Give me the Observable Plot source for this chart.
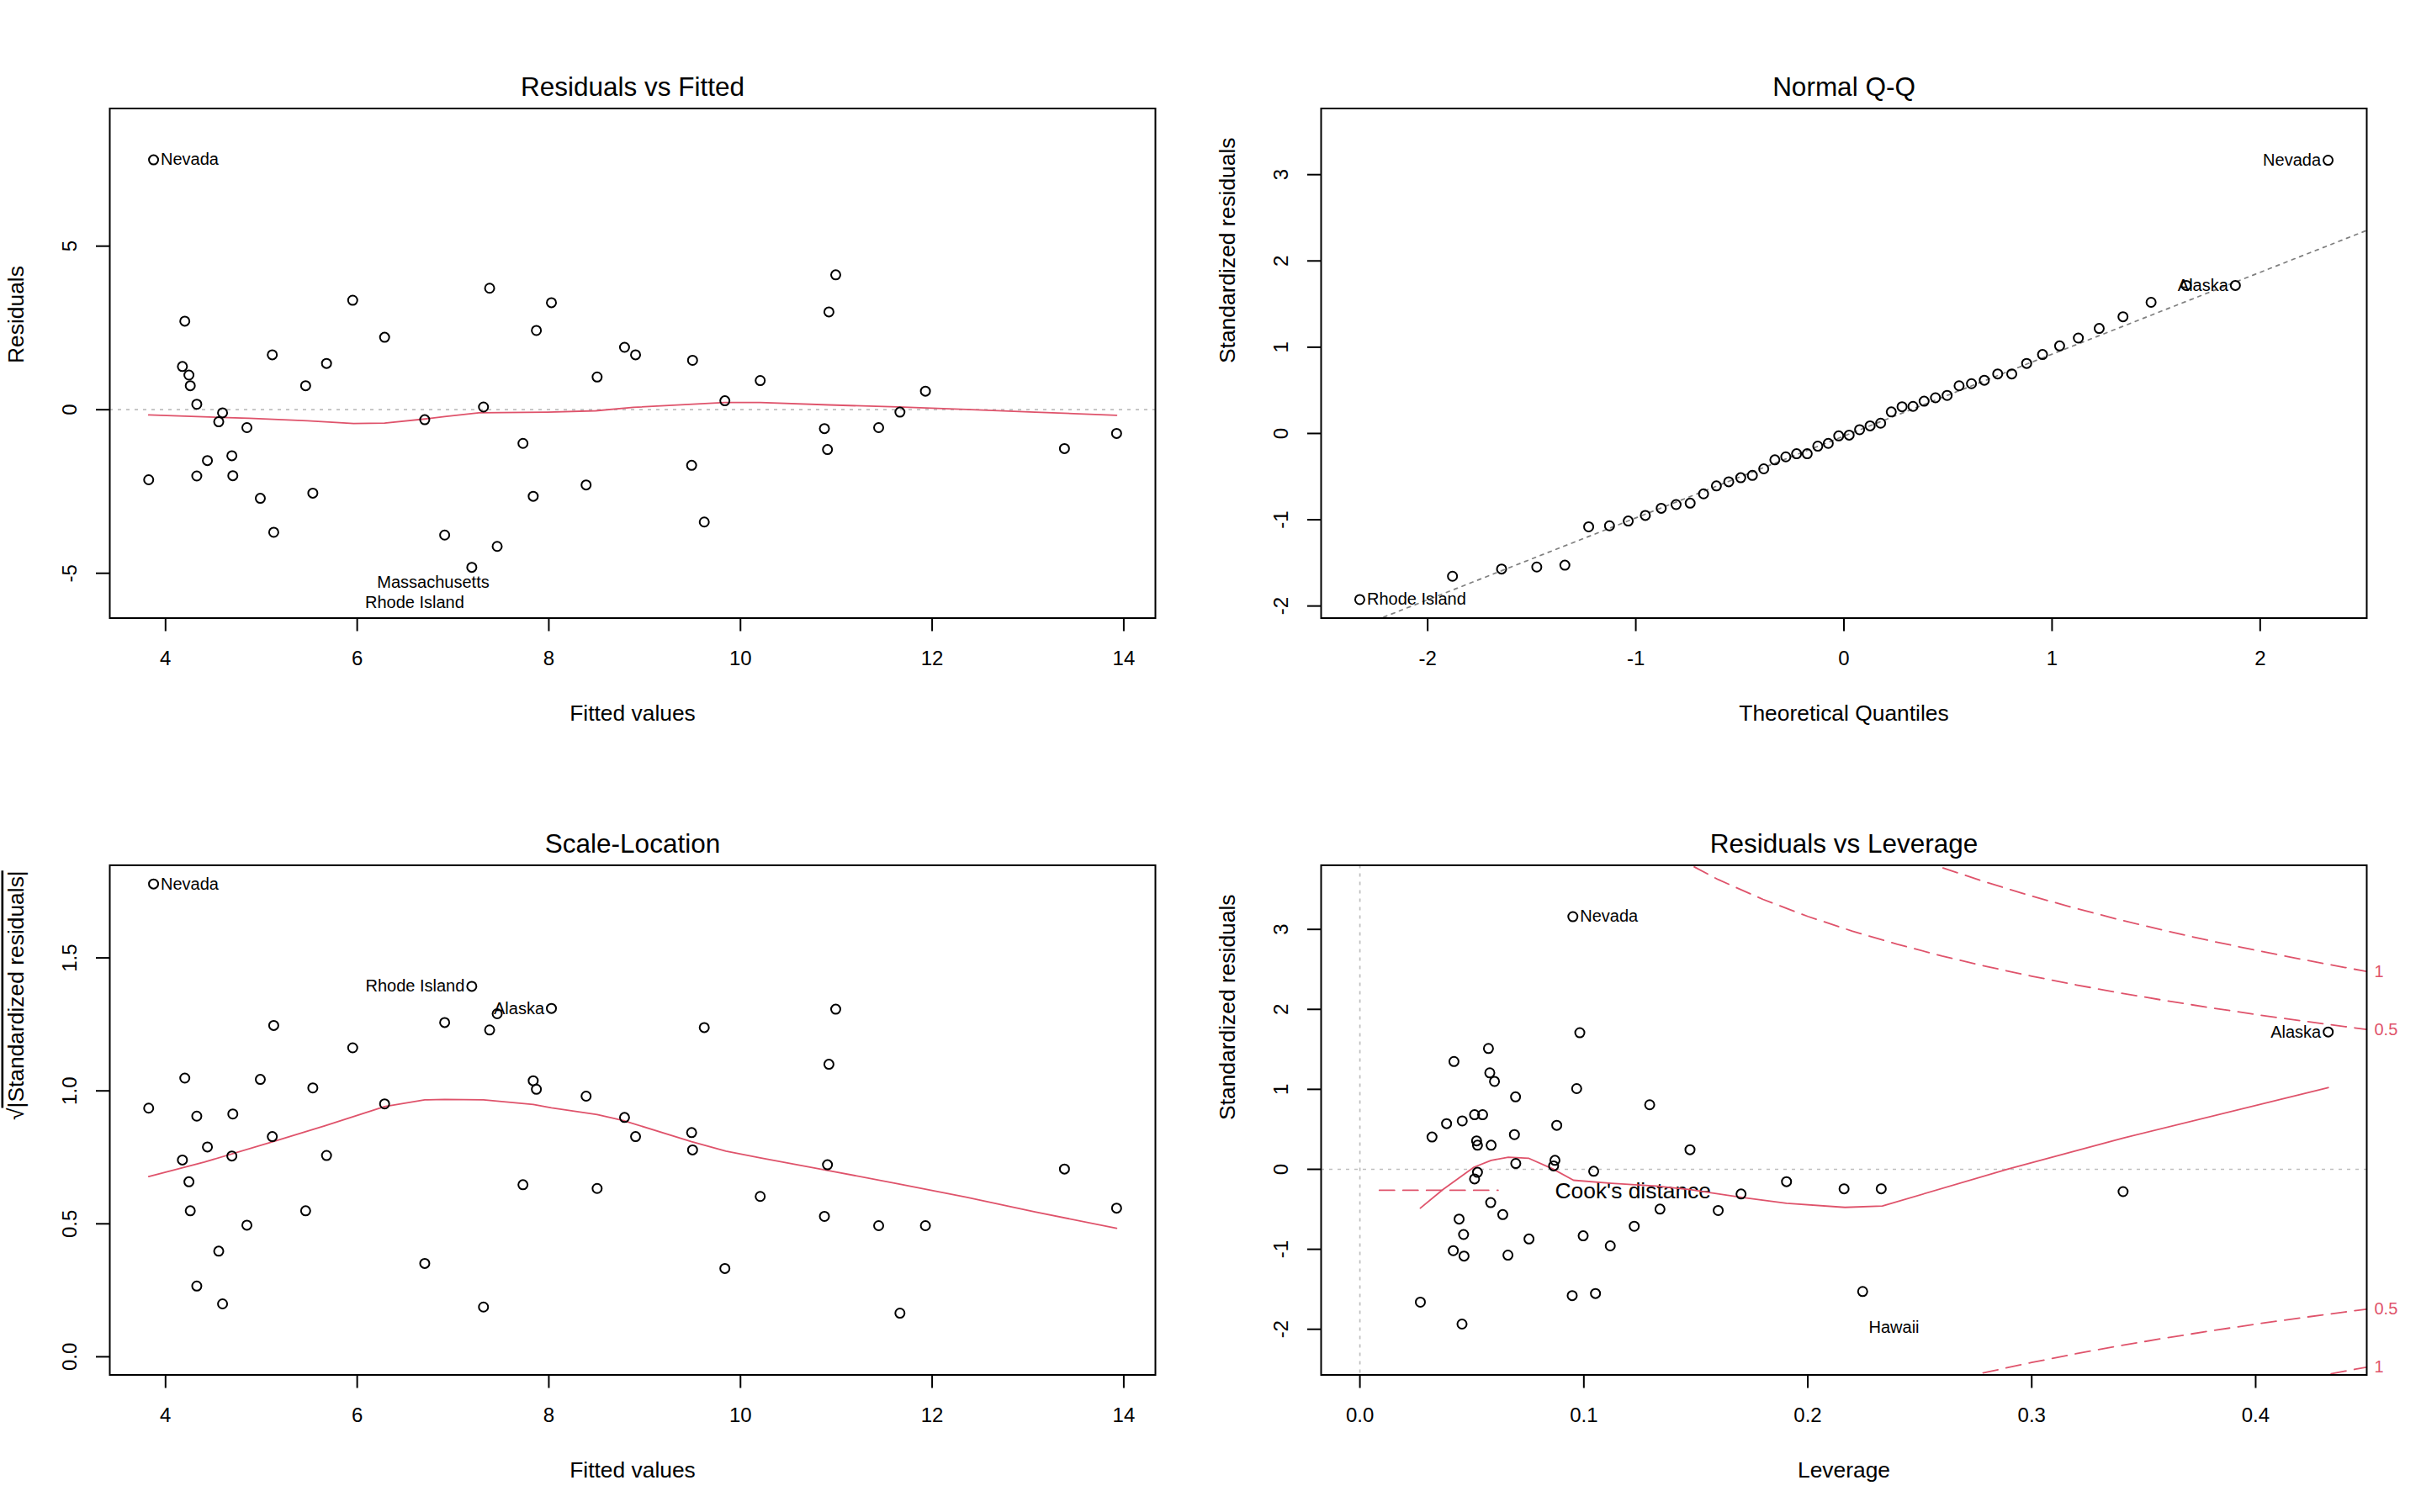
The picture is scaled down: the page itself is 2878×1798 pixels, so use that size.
<!DOCTYPE html>
<html><head><meta charset="utf-8">
<script src="https://cdn.jsdelivr.net/npm/d3@7"></script>
<script src="https://cdn.jsdelivr.net/npm/@observablehq/plot@0.6"></script>
<style>
html,body{margin:0;padding:0;background:#fff;}
#root{position:relative;width:2878px;height:1798px;overflow:hidden;background:#fff;}
.panel{position:absolute;}
.panel svg{display:block;}
</style></head><body><div id="root"></div>
<script>
// ---------- data ----------
const titles = ["Residuals vs Fitted", "Normal Q-Q", "Scale-Location", "Residuals vs Leverage"];
const xLabels = ["Fitted values", "Theoretical Quantiles", "Fitted values", "Leverage"];
const yLabels = ["Residuals", "Standardized residuals", "√|Standardized residuals|", "Standardized residuals"];

const fittedValues = [3.875, 3.824, 4.201, 4.176, 4.244, 4.258, 4.326, 4.595, 4.555, 4.849, 4.437, 4.692, 4.326, 4.702, 4.989, 5.129, 5.114, 5.537, 5.462, 5.680, 5.953, 6.286, 6.705, 6.913, 7.196, 7.318, 7.382, 7.461, 7.730, 7.837, 7.870, 8.027, 8.389, 8.504, 8.790, 8.905, 9.500, 9.490, 9.622, 9.837, 10.206, 10.994, 10.923, 10.876, 10.908, 11.442, 11.664, 11.930, 13.381, 13.925];
const residualValues = [7.638, -2.142, 2.706, 1.321, 1.059, 0.733, 0.167, -0.096, -0.369, -0.547, -1.554, -1.407, -2.026, -2.016, -2.709, -3.747, 1.678, -2.551, 0.733, 1.415, 3.346, 2.213, -0.306, -3.831, -4.818, 0.083, 3.713, -4.178, -1.030, -2.646, 2.423, 3.273, -2.299, 1.000, 1.908, 1.678, 1.510, -1.701, -3.433, 0.272, 0.891, 4.123, 2.989, -0.578, -1.218, -0.547, -0.075, 0.566, -1.187, -0.725];
const sqrtStdResid = [1.778, 0.935, 1.048, 0.740, 0.658, 0.549, 0.266, 0.199, 0.397, 0.495, 0.789, 0.755, 0.905, 0.913, 1.043, 1.246, 0.828, 1.011, 0.549, 0.757, 1.162, 0.951, 0.351, 1.257, 1.393, 0.187, 1.229, 1.290, 0.647, 1.038, 1.006, 1.310, 0.980, 0.633, 0.900, 0.828, 0.778, 0.843, 1.238, 0.332, 0.603, 1.307, 1.100, 0.528, 0.722, 0.493, 0.164, 0.493, 0.706, 0.559];

const theoreticalQ = [-2.3263, -1.8808, -1.6449, -1.4758, -1.3408, -1.2265, -1.1264, -1.0364, -0.9542, -0.8779, -0.8064, -0.7388, -0.6745, -0.6128, -0.5534, -0.4959, -0.4399, -0.3853, -0.3319, -0.2793, -0.2275, -0.1764, -0.1257, -0.0753, -0.0251, 0.0251, 0.0753, 0.1257, 0.1764, 0.2275, 0.2793, 0.3319, 0.3853, 0.4399, 0.4959, 0.5534, 0.6128, 0.6745, 0.7388, 0.8064, 0.8779, 0.9542, 1.0364, 1.1264, 1.2265, 1.3408, 1.4758, 1.6449, 1.8808, 2.3263];
const sortedStdResid = [-1.925, -1.655, -1.571, -1.548, -1.527, -1.082, -1.070, -1.015, -0.950, -0.867, -0.824, -0.808, -0.700, -0.608, -0.560, -0.513, -0.486, -0.410, -0.306, -0.271, -0.235, -0.235, -0.147, -0.115, -0.028, -0.019, 0.044, 0.088, 0.119, 0.250, 0.310, 0.314, 0.374, 0.414, 0.441, 0.553, 0.577, 0.617, 0.690, 0.690, 0.812, 0.915, 1.015, 1.106, 1.217, 1.353, 1.520, 1.716, 1.716, 3.167];
const qqIntercept = -0.03;
const qqSlope = 0.949;

const leverageValues = [0.0951, 0.0982, 0.0574, 0.0420, 0.0580, 0.0601, 0.0968, 0.0695, 0.1294, 0.0512, 0.0548, 0.0457, 0.0387, 0.0879, 0.0322, 0.0690, 0.0521, 0.0525, 0.0586, 0.1474, 0.0696, 0.0871, 0.0865, 0.0525, 0.1044, 0.0512, 0.1905, 0.2162, 0.1702, 0.0584, 0.0638, 0.1340, 0.1600, 0.0443, 0.1225, 0.0463, 0.0755, 0.0997, 0.0417, 0.0465, 0.0661, 0.1118, 0.0948, 0.1052, 0.0270, 0.0456, 0.2328, 0.3408, 0.2245, 0.4324];
const levStdResid = [3.159, 1.708, 1.511, 1.348, 1.206, 1.099, 1.009, 0.906, 0.807, 0.683, 0.683, 0.605, 0.571, 0.550, 0.404, 0.434, 0.356, 0.301, 0.301, 0.245, 0.073, 0.112, 0.043, -0.038, -0.025, -0.120, -0.154, -0.244, -0.309, -0.416, -0.566, -0.498, -0.515, -0.622, -0.712, -0.815, -0.871, -0.832, -1.017, -1.085, -1.073, -0.957, -1.579, -1.553, -1.661, -1.935, -0.244, -0.279, -1.528, 1.717];

const smooth1X = [3.824, 4.871, 5.480, 5.963, 6.286, 6.705, 6.913, 7.271, 7.988, 8.489, 8.883, 9.837, 10.206, 10.923, 11.639, 12.356, 13.073, 13.925];
const smooth1Y = [-0.159, -0.264, -0.337, -0.421, -0.410, -0.284, -0.211, -0.096, -0.075, -0.033, 0.072, 0.219, 0.219, 0.146, 0.083, 0.009, -0.075, -0.169];
const smooth3X = [3.824, 4.405, 5.121, 5.659, 6.286, 6.705, 6.913, 7.318, 7.837, 8.027, 8.504, 8.773, 9.490, 9.848, 10.206, 10.923, 11.639, 12.356, 13.073, 13.925];
const smooth3Y = [0.678, 0.732, 0.809, 0.868, 0.941, 0.966, 0.968, 0.966, 0.949, 0.936, 0.911, 0.889, 0.809, 0.773, 0.748, 0.700, 0.651, 0.600, 0.545, 0.483];
const smooth4X = [0.0270, 0.0371, 0.0509, 0.0586, 0.0663, 0.0755, 0.0862, 0.0954, 0.1123, 0.1322, 0.1475, 0.1705, 0.1905, 0.2166, 0.2333, 0.2895, 0.3408, 0.4324];
const smooth4Y = [-0.485, -0.253, 0.026, 0.112, 0.150, 0.137, 0.004, -0.137, -0.176, -0.210, -0.253, -0.352, -0.425, -0.476, -0.459, 0.004, 0.391, 1.022];

const cookH = [0.14, 0.16, 0.18, 0.20, 0.22, 0.24, 0.26, 0.28, 0.30, 0.32, 0.34, 0.36, 0.38, 0.40, 0.42, 0.44, 0.4496];
const cook05 = [3.919, 3.623, 3.375, 3.162, 2.977, 2.814, 2.667, 2.535, 2.415, 2.305, 2.203, 2.108, 2.020, 1.936, 1.858, 1.784, 1.749];
const cook1 = [5.542, 5.123, 4.773, 4.472, 4.210, 3.979, 3.772, 3.586, 3.416, 3.260, 3.115, 2.981, 2.856, 2.739, 2.628, 2.523, 2.474];
const cookLevelText = ["1", "0.5", "0.5", "1"];
const cookLevelY = [2.474, 1.749, -1.749, -2.474];
const cookLegendX = [0.0087, 0.0617];
const cookLegendY = -0.262;
const cookLegendText = {x: 0.0871, y: -0.275, text: "Cook's distance"};

// labelled points (index into the arrays) and free-standing labels
const p1LabelRight = [{i: 0, name: "Nevada"}];
const p1FreeLabels = [{x: 7.379, y: -5.27, text: "Massachusetts"}, {x: 7.117, y: -5.90, text: "Rhode Island"}];
const p2LabelRight = [{i: 0, name: "Rhode Island"}];
const p2LabelLeft = [{i: 48, name: "Alaska"}, {i: 49, name: "Nevada"}];
const p3LabelRight = [{i: 0, name: "Nevada"}];
const p3LabelLeft = [{i: 24, name: "Rhode Island"}, {i: 31, name: "Alaska"}];
const p4LabelRight = [{i: 0, name: "Nevada"}];
const p4LabelLeft = [{i: 49, name: "Alaska"}];
const p4FreeLabels = [{x: 0.2385, y: -1.978, text: "Hawaii"}];

const xTicks = [[4, 6, 8, 10, 12, 14], [-2, -1, 0, 1, 2], [4, 6, 8, 10, 12, 14], [0, 0.1, 0.2, 0.3, 0.4]];
const yTicks = [[-5, 0, 5], [-2, -1, 0, 1, 2, 3], [0, 0.5, 1, 1.5], [-2, -1, 0, 1, 2, 3]];
const xDomains = [[3.418, 14.33], [-2.512, 2.512], [3.418, 14.33], [-0.01732, 0.4496]];
const yDomains = [[-6.37, 9.208], [-2.14, 3.767], [-0.0683, 1.8485], [-2.571, 3.802]];

// ---------- styling ----------
const FONT = "'Liberation Sans', Arial, Helvetica, sans-serif";
const RED = "#DF536B";
const GRAY = "#BEBEBE";
const GRAY50 = "#7F7F7F";
const fmtInt = d => String(d);
const fmt1 = d => d.toFixed(1);
const dotOpts = {r: 5.5, stroke: "black", strokeWidth: 2, fill: "none"};
const lblSize = 20;

const root = document.getElementById("root");
const W = 1439, H = 899;

function makePanel(k, pos, margins, marks, fmts) {
  const chart = Plot.plot({
    width: W, height: H,
    marginLeft: margins[0], marginRight: margins[1], marginTop: margins[2], marginBottom: margins[3],
    style: {fontFamily: FONT, background: "white", color: "black"},
    x: {type: "linear", domain: xDomains[k], nice: false},
    y: {type: "linear", domain: yDomains[k], nice: false},
    marks: [
      ...marks,
      Plot.frame({stroke: "black", strokeWidth: 2}),
      Plot.axisX({ticks: xTicks[k], tickFormat: fmts[0], tickSize: 16, tickPadding: 23, fontSize: 24, strokeWidth: 2, label: null}),
      Plot.axisY({ticks: yTicks[k], tickFormat: fmts[1], tickSize: 16, tickPadding: 24, tickRotate: -90, fontSize: 24, strokeWidth: 2, label: null}),
      Plot.text([titles[k]], {frameAnchor: "top", dy: -15, lineAnchor: "bottom", fontSize: 31.5}),
      Plot.text([xLabels[k]], {frameAnchor: "bottom", dy: 122, lineAnchor: "bottom", fontSize: 26.4}),
      Plot.text([yLabels[k]], {frameAnchor: "left", dx: -103, rotate: -90, lineAnchor: "bottom", fontSize: 26.4})
    ]
  });
  const div = document.createElement("div");
  div.className = "panel";
  div.style.left = pos[0] + "px";
  div.style.top = pos[1] + "px";
  div.style.width = W + "px";
  div.style.height = H + "px";
  div.append(chart);
  root.append(div);
  return chart;
}

const idx = d3.range(fittedValues.length);

// Panel 1: Residuals vs Fitted
makePanel(0, [0, 0], [130, 66, 128.5, 164.5], [
  Plot.ruleY([0], {stroke: GRAY, strokeWidth: 1.7, strokeDasharray: "4 6"}),
  Plot.line(d3.range(smooth1X.length), {x: i => smooth1X[i], y: i => smooth1Y[i], stroke: RED, strokeWidth: 1.8}),
  Plot.dot(idx, {x: i => fittedValues[i], y: i => residualValues[i], ...dotOpts}),
  Plot.text(p1LabelRight, {x: d => fittedValues[d.i], y: d => residualValues[d.i], text: d => d.name, textAnchor: "start", dx: 8.5, fontSize: lblSize}),
  Plot.text(p1FreeLabels, {x: "x", y: "y", text: "text", textAnchor: "end", fontSize: lblSize})
], [fmtInt, fmtInt]);

// Panel 2: Normal Q-Q
makePanel(1, [1439, 0], [131, 65, 128.5, 164.5], [
  Plot.line(xDomains[1], {x: d => d, y: d => qqIntercept + qqSlope * d, stroke: GRAY50, strokeWidth: 1.7, strokeDasharray: "4 6", clip: true}),
  Plot.dot(idx, {x: i => theoreticalQ[i], y: i => sortedStdResid[i], ...dotOpts}),
  Plot.text(p2LabelRight, {x: d => theoreticalQ[d.i], y: d => sortedStdResid[d.i], text: d => d.name, textAnchor: "start", dx: 8.5, fontSize: lblSize}),
  Plot.text(p2LabelLeft, {x: d => theoreticalQ[d.i], y: d => sortedStdResid[d.i], text: d => d.name, textAnchor: "end", dx: -8.5, fontSize: lblSize})
], [fmtInt, fmtInt]);

// Panel 3: Scale-Location
const chart3 = makePanel(2, [0, 899], [130, 66, 129.4, 163.5], [
  Plot.line(d3.range(smooth3X.length), {x: i => smooth3X[i], y: i => smooth3Y[i], stroke: RED, strokeWidth: 1.8}),
  Plot.dot(idx, {x: i => fittedValues[i], y: i => sqrtStdResid[i], ...dotOpts}),
  Plot.text(p3LabelRight, {x: d => fittedValues[d.i], y: d => sqrtStdResid[d.i], text: d => d.name, textAnchor: "start", dx: 8.5, fontSize: lblSize}),
  Plot.text(p3LabelLeft, {x: d => fittedValues[d.i], y: d => sqrtStdResid[d.i], text: d => d.name, textAnchor: "end", dx: -8.5, fontSize: lblSize})
], [fmtInt, fmt1]);

// Panel 4: Residuals vs Leverage
const cookIdx = d3.range(cookH.length);
makePanel(3, [1439, 899], [131, 65, 129.4, 163.5], [
  Plot.ruleY([0], {stroke: GRAY, strokeWidth: 1.7, strokeDasharray: "4 6"}),
  Plot.ruleX([0], {stroke: GRAY, strokeWidth: 1.7, strokeDasharray: "4 6"}),
  Plot.line(cookIdx, {x: i => cookH[i], y: i => cook05[i], stroke: RED, strokeWidth: 1.8, strokeDasharray: "18 10", clip: true}),
  Plot.line(cookIdx, {x: i => cookH[i], y: i => cook1[i], stroke: RED, strokeWidth: 1.8, strokeDasharray: "18 10", clip: true}),
  Plot.line(cookIdx, {x: i => cookH[i], y: i => -cook05[i], stroke: RED, strokeWidth: 1.8, strokeDasharray: "18 10", clip: true}),
  Plot.line(cookIdx, {x: i => cookH[i], y: i => -cook1[i], stroke: RED, strokeWidth: 1.8, strokeDasharray: "18 10", clip: true}),
  Plot.line(cookLegendX, {x: d => d, y: () => cookLegendY, stroke: RED, strokeWidth: 1.8, strokeDasharray: "18 10"}),
  Plot.text([cookLegendText], {x: "x", y: "y", text: "text", textAnchor: "start", fontSize: 26.4}),
  Plot.line(d3.range(smooth4X.length), {x: i => smooth4X[i], y: i => smooth4Y[i], stroke: RED, strokeWidth: 1.8}),
  Plot.dot(idx, {x: i => leverageValues[i], y: i => levStdResid[i], ...dotOpts}),
  Plot.text(p4LabelRight, {x: d => leverageValues[d.i], y: d => levStdResid[d.i], text: d => d.name, textAnchor: "start", dx: 8.5, fontSize: lblSize}),
  Plot.text(p4LabelLeft, {x: d => leverageValues[d.i], y: d => levStdResid[d.i], text: d => d.name, textAnchor: "end", dx: -8.5, fontSize: lblSize}),
  Plot.text(p4FreeLabels, {x: "x", y: "y", text: "text", textAnchor: "middle", fontSize: lblSize}),
  Plot.text(cookLevelText, {x: () => xDomains[3][1], y: (d, i) => cookLevelY[i], text: d => d, textAnchor: "start", dx: 9, fill: RED, fontSize: lblSize})
], [fmt1, fmtInt]);

// overline over the radicand of the Scale-Location y label
chart3.querySelectorAll("text").forEach(t => {
  if (t.textContent === yLabels[2]) {
    const ns = "http://www.w3.org/2000/svg";
    t.textContent = "";
    const a = document.createElementNS(ns, "tspan");
    a.textContent = "√";
    const b = document.createElementNS(ns, "tspan");
    b.textContent = yLabels[2].slice(1);
    b.setAttribute("text-decoration", "overline");
    b.style.textDecoration = "overline";
    t.append(a, b);
  }
});
</script></body></html>
